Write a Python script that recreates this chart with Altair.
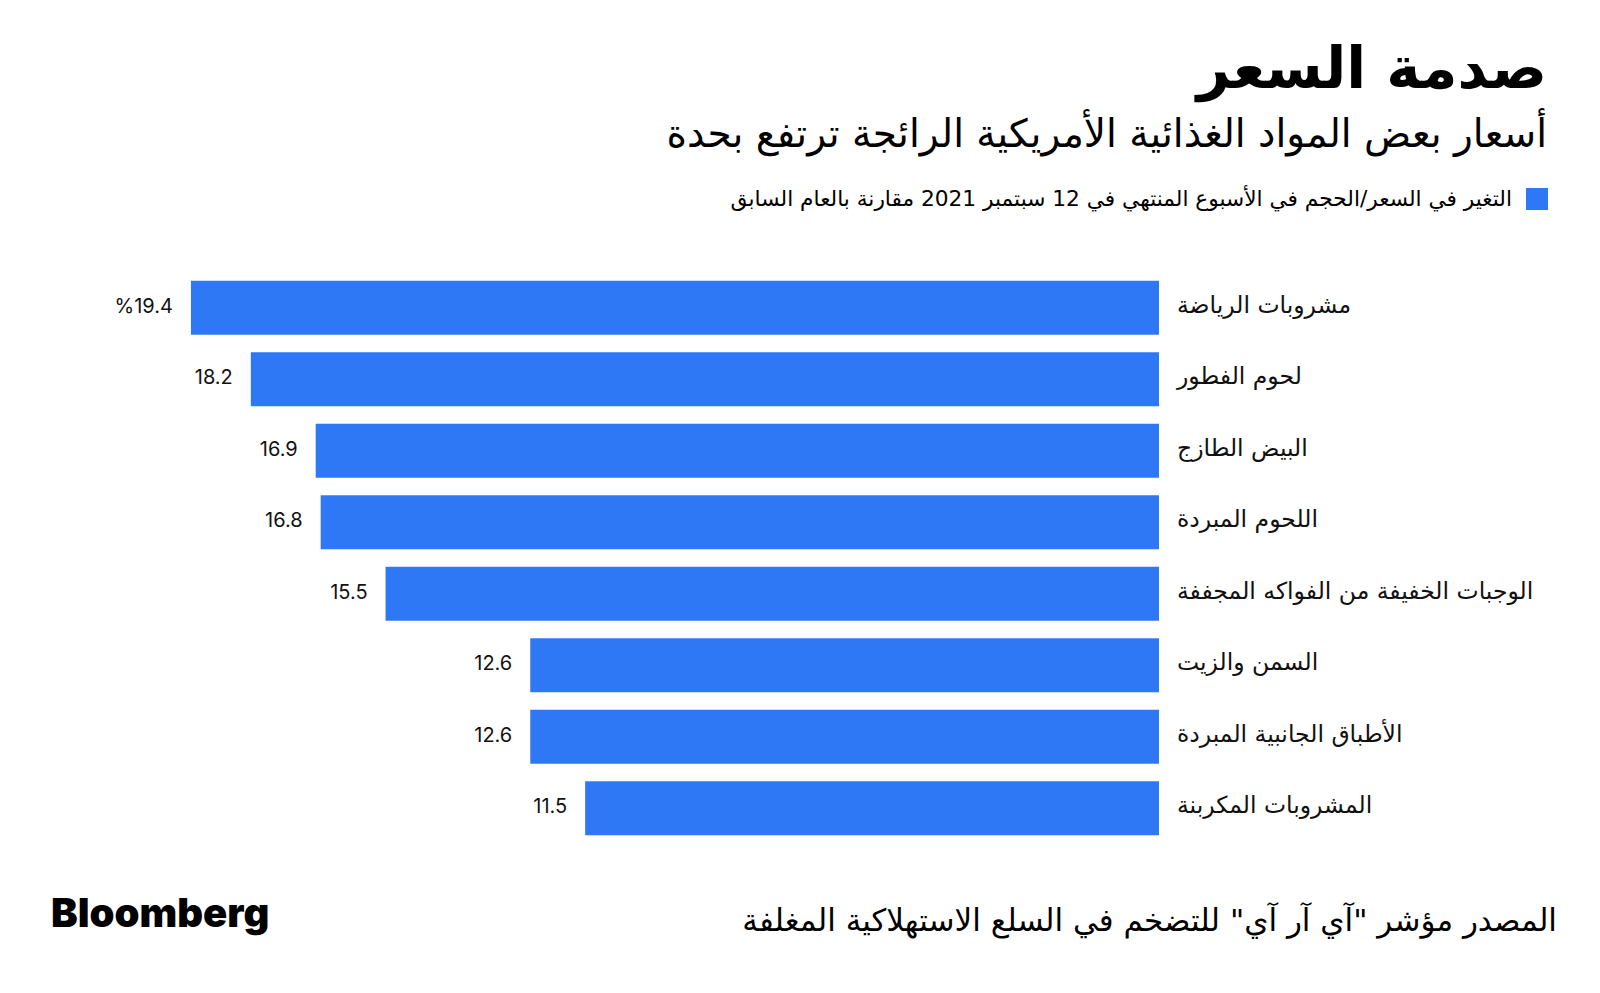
import altair as alt
import pandas as pd

categories = [
    "مشروبات الرياضة",
    "لحوم الفطور",
    "البيض الطازج",
    "اللحوم المبردة",
    "الوجبات الخفيفة من الفواكه المجففة",
    "السمن والزيت",
    "الأطباق الجانبية المبردة",
    "المشروبات المكربنة",
]
values = [19.4, 18.2, 16.9, 16.8, 15.5, 12.6, 12.6, 11.5]
value_labels = ["%19.4", "18.2", "16.9", "16.8", "15.5", "12.6", "12.6", "11.5"]

title_text = "صدمة السعر"
subtitle_text = "أسعار بعض المواد الغذائية الأمريكية الرائجة ترتفع بحدة"
legend_text = "التغير في السعر/الحجم في الأسبوع المنتهي في 12 سبتمبر 2021 مقارنة بالعام السابق"
source_text = 'المصدر مؤشر "آي آر آي" للتضخم في السلع الاستهلاكية المغلفة'
brand_text = "Bloomberg"

BLUE = "#2f78f5"
AR_FONT = "DejaVu Sans"
NUM_FONT = "Inter"

df = pd.DataFrame({"cat": categories, "val": values, "lab": value_labels})

xs = alt.Scale(domain=[0, 20], range=[1151, 153])
ys = alt.Scale(domain=categories, range=[264, 836], paddingInner=0.245, paddingOuter=0.1225)

base = alt.Chart(df)

bars = base.mark_bar(color=BLUE).encode(
    x=alt.X("val:Q", scale=xs, axis=None),
    x2=alt.datum(0),
    y=alt.Y("cat:N", scale=ys, axis=None, sort=categories),
)

vals = base.mark_text(align="right", baseline="middle", dx=-18, dy=-1, fontSize=20,
                      font=NUM_FONT, color="#111").encode(
    x=alt.X("val:Q", scale=xs, axis=None),
    y=alt.Y("cat:N", scale=ys, axis=None, sort=categories),
    text="lab:N",
)

cats = base.mark_text(align="left", baseline="middle", dy=-2, fontSize=23.5,
                      font=AR_FONT, color="#111").encode(
    x=alt.value(1169),
    y=alt.Y("cat:N", scale=ys, axis=None, sort=categories),
    text="cat:N",
)


def label(text, x, y, **kw):
    return alt.Chart(pd.DataFrame({"t": [text]})).mark_text(**kw).encode(
        x=alt.value(x), y=alt.value(y), text="t:N"
    )


title = label(title_text, 1539, 80, align="right", baseline="alphabetic",
              fontSize=58, fontWeight="bold", font=AR_FONT, color="#000")
subtitle = label(subtitle_text, 1539, 139, align="right", baseline="alphabetic",
                 fontSize=39, font=AR_FONT, color="#000")
legend_sq = alt.Chart(pd.DataFrame({"a": [1]})).mark_square(
    size=484, color=BLUE, opacity=1).encode(x=alt.value(1529), y=alt.value(191))
legend_lab = label(legend_text, 1504, 191, align="right", baseline="middle",
                   fontSize=21.7, font=AR_FONT, color="#000")
brand = label(brand_text, 43, 919, align="left", baseline="alphabetic",
              fontSize=40, fontWeight=900, font="Inter", color="#000")
source = label(source_text, 1549, 923, align="right", baseline="alphabetic",
               fontSize=31, font=AR_FONT, color="#000")

chart = alt.layer(
    bars, vals, cats, title, subtitle, legend_sq, legend_lab, brand, source
).properties(
    width=1584, height=970, autosize=alt.AutoSizeParams(type="none"), padding=0,
    background="white",
).configure_view(stroke=None)

chart.save("out.html", embed_options={"renderer": "svg", "actions": False})
